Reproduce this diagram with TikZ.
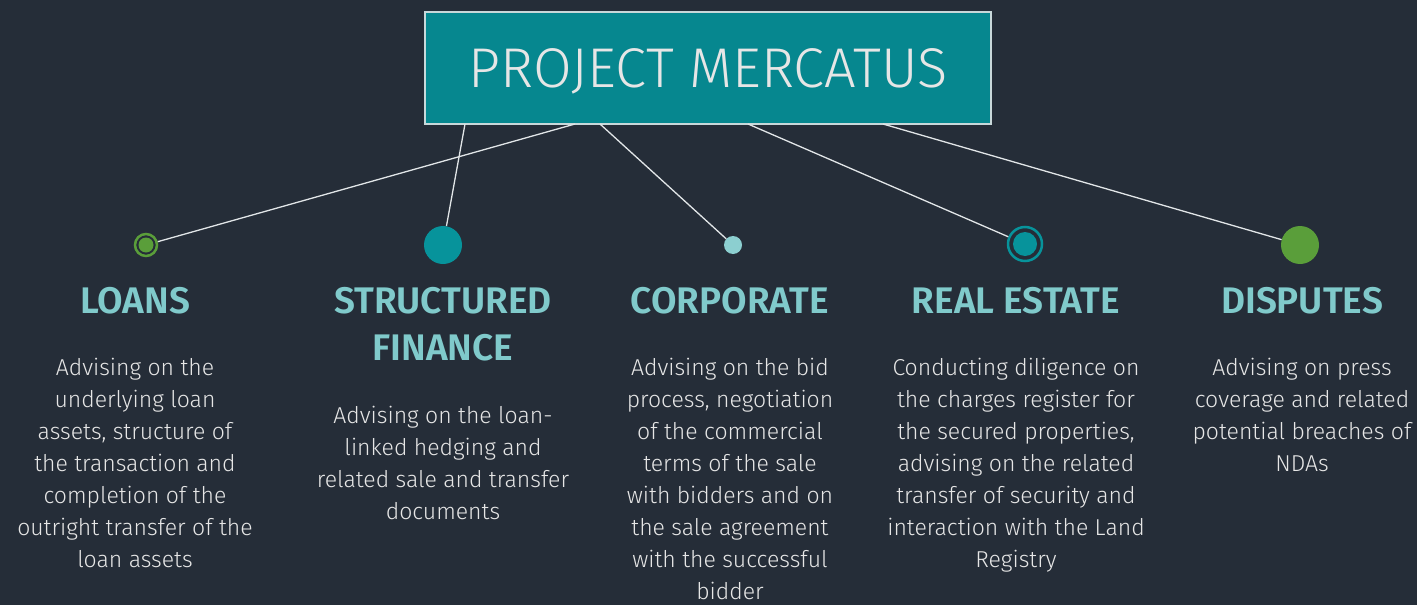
\documentclass[tikz,border=0pt]{standalone}
\usepackage{fontspec}
\setmainfont{Fira Sans}
\newfontfamily\lightfont{Fira Sans Light}
\newfontfamily\boldfont{Fira Sans SemiBold}
\definecolor{bgcol}{HTML}{252D38}
\definecolor{boxteal}{HTML}{06878F}
\definecolor{boxrule}{HTML}{C8D8DA}
\definecolor{headcol}{HTML}{80CACB}
\definecolor{bodycol}{HTML}{E6E6E6}
\definecolor{leafgreen}{HTML}{5A9E3A}
\definecolor{dotteal}{HTML}{07939B}
\definecolor{paleteal}{HTML}{8CCFD0}
\definecolor{wirecol}{HTML}{E2E6E8}
\begin{document}
\begin{tikzpicture}[x=1pt,y=-1pt,
  heading/.style={text=headcol,font=\boldfont\fontsize{37}{47}\selectfont,align=center,inner sep=0pt,anchor=north},
  body/.style={text=bodycol,font=\lightfont\fontsize{23}{32}\selectfont,align=center,inner sep=0pt,anchor=north},
  wire/.style={draw=wirecol,line width=1.3pt},
  dot/.style={circle,inner sep=0pt}]
  % background
  \fill[bgcol] (0,0) rectangle (1417,605);
  \useasboundingbox (0,0) rectangle (1417,605);

  % title box
  \node[draw=boxrule,fill=boxteal,line width=1.2pt,minimum width=566pt,minimum height=112pt,inner sep=0pt] (title) at (708,68) {};
  \node[text=bodycol,font=\lightfont\fontsize{56}{60}\selectfont,inner sep=0pt] (titletext) at (708,71) {PROJECT MERCATUS};

  % points where the wires leave the box
  \coordinate (s1) at (575,124);
  \coordinate (s2) at (465,124);
  \coordinate (s3) at (600,124);
  \coordinate (s4) at (748,124);
  \coordinate (s5) at (883,124);

  % markers
  \node[dot,draw=leafgreen,line width=2.5pt,minimum size=22pt] (c1) at (146,245) {};
  \fill[leafgreen] (c1.center) circle (7.5);
  \node[dot,fill=dotteal,minimum size=38pt] (c2) at (443,245) {};
  \node[dot,fill=paleteal,minimum size=18pt] (c3) at (733,245) {};
  \node[dot,draw=dotteal,line width=2.5pt,minimum size=34pt] (c4) at (1025,244) {};
  \fill[dotteal] (c4.center) circle (12);
  \node[dot,fill=leafgreen,minimum size=38pt] (c5) at (1300,245) {};

  % wires
  \draw[wire] (s1) -- (c1);
  \draw[wire] (s2) -- (c2);
  \draw[wire] (s3) -- (c3);
  \draw[wire] (s4) -- (c4);
  \draw[wire] (s5) -- (c5);

  % headings
  \node[heading] (h1) at (135,287) {LOANS};
  \node[heading] (h2) at (443,287) {STRUCTURED\\FINANCE};
  \node[heading] (h3) at (730,287) {CORPORATE};
  \node[heading] (h4) at (1016,287) {REAL ESTATE};
  \node[heading] (h5) at (1302,287) {DISPUTES};

  % descriptions
  \node[body] (t1) at (135,358) {Advising on the\\underlying loan\\assets, structure of\\the transaction and\\completion of the\\outright transfer of the\\loan assets};
  \node[body] (t2) at (443,406) {Advising on the loan-\\linked hedging and\\related sale and transfer\\documents};
  \node[body] (t3) at (730,358) {Advising on the bid\\process, negotiation\\of the commercial\\terms of the sale\\with bidders and on\\the sale agreement\\with the successful\\bidder};
  \node[body] (t4) at (1016,358) {Conducting diligence on\\the charges register for\\the secured properties,\\advising on the related\\transfer of security and\\interaction with the Land\\Registry};
  \node[body] (t5) at (1302,358) {Advising on press\\coverage and related\\potential breaches of\\NDAs};
\end{tikzpicture}
\end{document}
